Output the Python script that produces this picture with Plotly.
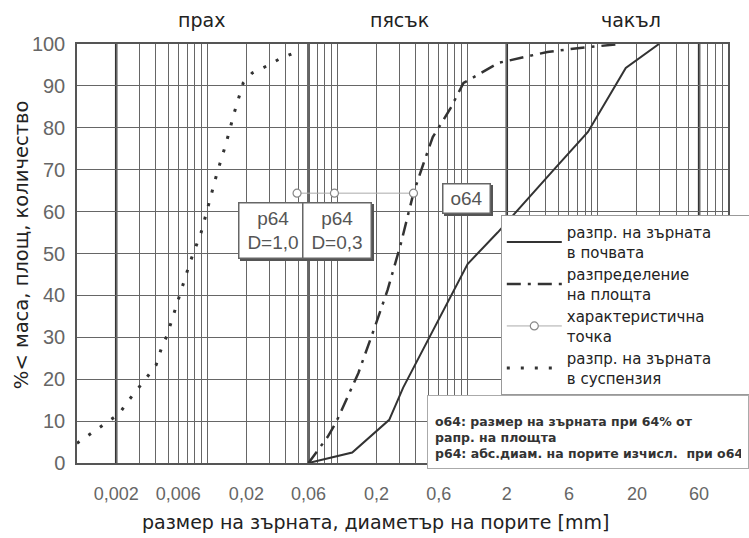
import math
import plotly.graph_objects as go

# ---------------- data ----------------
soil_d = [0.06, 0.13, 0.25, 0.32, 1.0, 1.7, 4.6, 8.4, 16.4, 29.5]
soil_p = [0.0, 2.5, 10.3, 18.0, 47.5, 55.0, 70.0, 79.0, 94.3, 100.0]

area_d = [0.06, 0.084, 0.097, 0.145, 0.19, 0.243, 0.305, 0.384, 0.46, 0.54, 0.63, 0.74, 0.93, 1.73, 4.1, 7.0, 15.0]
area_p = [0.0, 6.2, 9.5, 21.5, 31.7, 41.3, 52.0, 64.4, 71.6, 77.8, 81.1, 84.7, 90.7, 95.5, 98.1, 99.0, 100.0]

char_d = [0.049, 0.0949, 0.384]
char_p = [64.4, 64.4, 64.4]

susp_d = [0.001, 0.0013, 0.00167, 0.0021, 0.00247, 0.00294, 0.00345, 0.00405, 0.00443, 0.00492,
          0.00578, 0.0063, 0.0074, 0.009, 0.0104, 0.0119, 0.014, 0.0161, 0.0189, 0.0222,
          0.0284, 0.0358, 0.0467]
susp_p = [4.7, 7.2, 9.5, 11.7, 14.8, 17.7, 20.5, 23.4, 27.2, 30.5,
          37.5, 41.0, 48.0, 55.1, 62.5, 69.2, 76.4, 83.5, 90.7, 93.1,
          94.7, 96.4, 97.9]

label_vals = [0.002, 0.006, 0.02, 0.06, 0.2, 0.6, 2, 6, 20, 60]
label_text = ["0,002", "0,006", "0,02", "0,06", "0,2", "0,6", "2", "6", "20", "60"]
bold_vals = [0.002, 0.06, 2, 60]
regions = ["прах", "пясък", "чакъл"]

NB = "\u00a0" * 8
names = ["разпр. на зърната" + NB + "<br>в почвата",
         "разпределение<br>на площта",
         "характеристична<br>точка",
         "разпр. на зърната<br>в суспензия"]

# ---------------- grid ticks ----------------
grid_vals = []
for e in range(-3, 2):
    for k in range(1, 10):
        grid_vals.append(round(k * 10 ** e, 6))
grid_vals.append(100)
grid_text = []
for v in grid_vals:
    t = ""
    for lv, lt in zip(label_vals, label_text):
        if abs(v - lv) < 1e-9:
            t = lt
    grid_text.append(t)

LINE = "#333333"
fig = go.Figure()
fig.add_trace(go.Scatter(x=soil_d, y=soil_p, mode="lines", name=names[0],
                         line=dict(color=LINE, width=2)))
fig.add_trace(go.Scatter(x=area_d, y=area_p, mode="lines", name=names[1],
                         line=dict(color=LINE, width=2.5, dash="14px,7px,3px,7px")))
fig.add_trace(go.Scatter(x=char_d, y=char_p, mode="lines+markers", name=names[2],
                         line=dict(color="#aaaaaa", width=1),
                         marker=dict(symbol="circle", size=8, color="white",
                                     line=dict(color="#888888", width=1.2))))
fig.add_trace(go.Scatter(x=susp_d, y=susp_p, mode="lines", name=names[3],
                         line=dict(color=LINE, width=3, dash="3px,11px")))

# bold boundary lines
for b in bold_vals:
    fig.add_shape(type="line", xref="x", yref="paper", x0=b, x1=b, y0=0, y1=1,
                  line=dict(color="#333333", width=2.5), layer="below")

ann = []
# region labels
for txt, px in zip(regions, [0.1905, 0.496, 0.851]):
    ann.append(dict(text=txt, xref="paper", yref="paper", x=px, y=1.057,
                    showarrow=False, xanchor="center", yanchor="middle",
                    font=dict(family="DejaVu Sans", size=19, color="#222222")))

# p64 / o64 boxes (shadow + box); x given in log10 units for the log axis
boxes = [("p64<br>D=1,0", 0.0319, 55.6, 63, 50),
         ("p64<br>D=0,3", 0.0997, 55.6, 63, 50),
         ("o64", 0.982, 63.2, 42, 24)]
for txt, bx, by, w, h in boxes:
    lx = math.log10(bx)
    ann.append(dict(text=" ", xref="x", yref="y", x=lx, y=by, showarrow=False,
                    xshift=2, yshift=-2, width=w, height=h, bgcolor="#555555",
                    borderpad=2, borderwidth=1.5, bordercolor="#555555"))
    ann.append(dict(text=txt, xref="x", yref="y", x=lx, y=by, showarrow=False,
                    width=w, height=h, bgcolor="white", bordercolor="#666666",
                    borderwidth=1.5, borderpad=2,
                    font=dict(family="Liberation Sans", size=19, color="#555555")))

# explanation box
ann.append(dict(text="<b>o64: размер на зърната при 64% от<br>рапр. на площта<br>р64: абс.диам. на порите изчисл.  при o64</b>",
                xref="paper", yref="paper", x=0.5376, y=0.1623, xanchor="left", yanchor="top",
                showarrow=False, align="left", valign="bottom", width=306, height=58,
                bgcolor="white", bordercolor="#aaaaaa", borderwidth=1, borderpad=7,
                font=dict(family="DejaVu Sans", size=12.5, color="#333333")))

# axis titles
ann.append(dict(text="размер на зърната, диаметър на порите [mm]", xref="paper", yref="paper",
                x=0.4578, y=-0.1408, xanchor="center", yanchor="middle", showarrow=False,
                font=dict(family="DejaVu Sans", size=19, color="#222222")))
ann.append(dict(text="%< маса, площ, количество", xref="paper", yref="paper",
                x=-0.086, y=0.52, xanchor="center", yanchor="middle", showarrow=False,
                textangle=-90, font=dict(family="DejaVu Sans", size=19.5, color="#222222")))

fig.update_layout(
    width=749, height=538,
    margin=dict(l=77, r=21, t=44, b=75, autoexpand=False),
    paper_bgcolor="white", plot_bgcolor="white",
    annotations=ann,
    showlegend=True,
    legend=dict(x=0.651, y=0.592, xanchor="left", yanchor="top",
                bgcolor="white", bordercolor="#999999", borderwidth=1,
                font=dict(family="DejaVu Sans", size=15, color="#222222"),
                itemwidth=55, tracegroupgap=2),
    xaxis=dict(type="log", range=[-3, 2], tickmode="array", tickvals=grid_vals,
               ticktext=grid_text, showgrid=True, gridcolor="#666666", gridwidth=1,
               ticks="", showline=True, linecolor="#555555", linewidth=1.5, mirror=True,
               zeroline=False, ticklabelstandoff=14,
               tickfont=dict(family="Liberation Sans", size=18, color="#666666")),
    yaxis=dict(range=[0, 100], dtick=10, showgrid=True, gridcolor="#666666", gridwidth=1,
               ticks="", showline=True, linecolor="#555555", linewidth=1.5, mirror=True,
               zeroline=False, ticklabelstandoff=6,
               tickfont=dict(family="Liberation Sans", size=20, color="#666666")),
)

fig.write_html("out.html")
